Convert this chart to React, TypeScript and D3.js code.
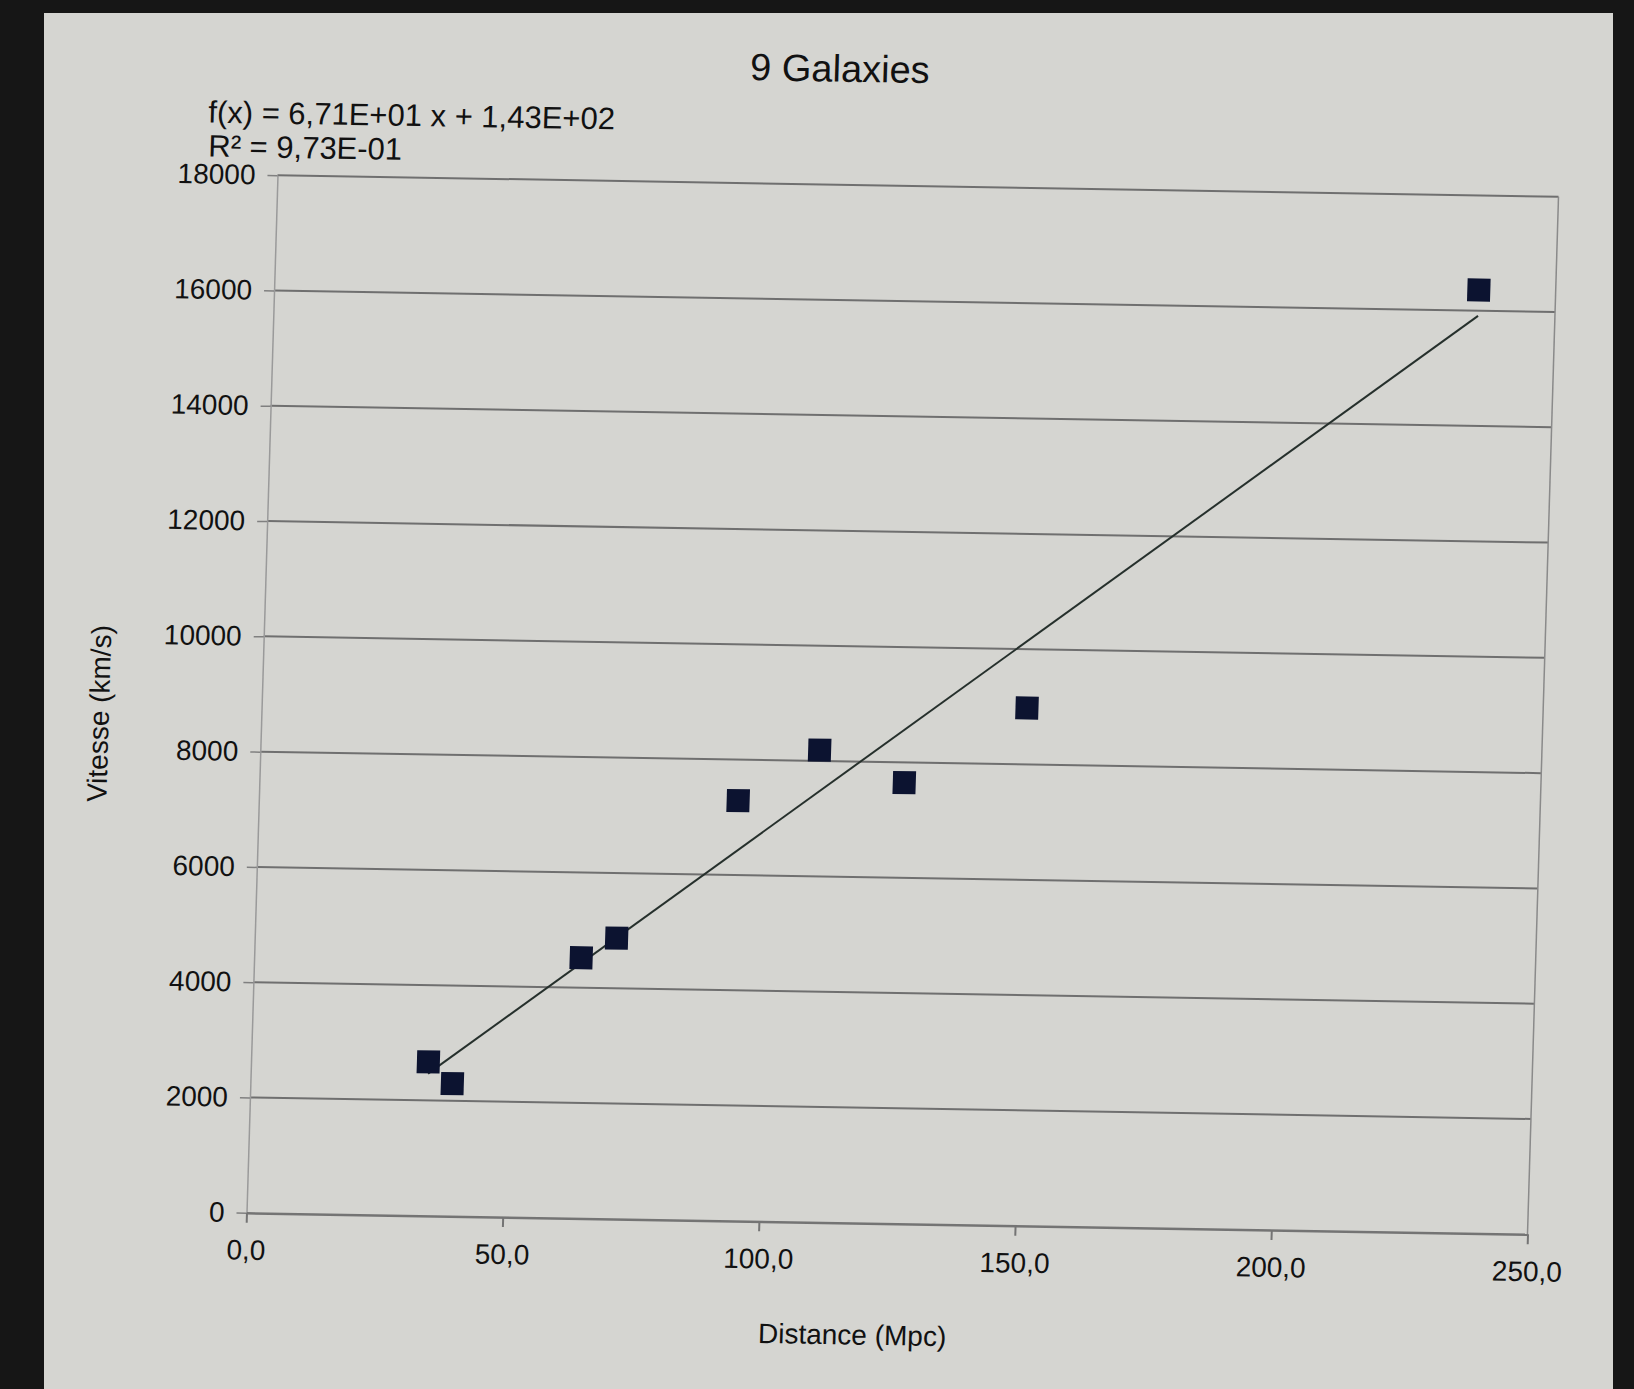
import React, { useEffect, useRef } from 'react';
import * as d3 from 'd3';

const distance = [34.6, 39.4, 63.8, 70.6, 93.5, 109.1, 125.8, 149.3, 235.0]; // Mpc
const vitesse = [2670, 2300, 4520, 4870, 7290, 8190, 7650, 8980, 16360]; // km/s
const xTicks = [0, 50, 100, 150, 200, 250];
const yTicks = [0, 2000, 4000, 6000, 8000, 10000, 12000, 14000, 16000, 18000];
const trendSlope = 67.1;
const trendIntercept = 143;
const chartTitle = '9 Galaxies';
const equationText = 'f(x) = 6,71E+01 x + 1,43E+02';
const r2Text = 'R² = 9,73E-01';
const xTitle = 'Distance (Mpc)';
const yTitle = 'Vitesse (km/s)';

const W = 1634;
const H = 1389;
const plotW = 1281;
const plotH = 1037.5;
const FONT = '"Liberation Sans", Arial, sans-serif';

export default function App() {
  const ref = useRef<SVGSVGElement>(null);

  useEffect(() => {
    const svg = d3.select(ref.current);
    svg.selectAll('*').remove();

    // cadre sombre + écran
    svg.append('rect').attr('width', W).attr('height', H).attr('fill', '#161616');
    svg
      .append('rect')
      .attr('x', 44)
      .attr('y', 13)
      .attr('width', 1569)
      .attr('height', H - 13)
      .attr('fill', '#d5d5d1');

    // légère inclinaison de la photo
    const g = svg
      .append('g')
      .attr('transform', 'matrix(1,0.01678,-0.02988,1,277.5,175.25)');

    const x = d3.scaleLinear().domain([0, 250]).range([0, plotW]);
    const y = d3.scaleLinear().domain([0, 18000]).range([plotH, 0]);

    // grille horizontale
    g.append('g')
      .selectAll('line')
      .data(yTicks.filter((d) => d > 0))
      .enter()
      .append('line')
      .attr('x1', 0)
      .attr('x2', plotW)
      .attr('y1', (d) => y(d))
      .attr('y2', (d) => y(d))
      .attr('stroke', '#6f6f6f')
      .attr('stroke-width', 2);

    // bord droit
    g.append('line')
      .attr('x1', plotW)
      .attr('x2', plotW)
      .attr('y1', 0)
      .attr('y2', plotH)
      .attr('stroke', '#8a8a8a')
      .attr('stroke-width', 1.5);

    // axe Y
    const yAxis = g
      .append('g')
      .call(
        d3
          .axisLeft(y)
          .tickValues(yTicks)
          .tickSize(10)
          .tickSizeOuter(0)
          .tickPadding(12)
          .tickFormat((d) => d3.format('d')(d as number))
      );
    yAxis.select('.domain').attr('stroke', '#9a9a9a').attr('stroke-width', 1.5);
    yAxis.selectAll('.tick line').attr('stroke', '#808080').attr('stroke-width', 1.5);
    yAxis
      .selectAll('.tick text')
      .attr('fill', '#111')
      .style('font-family', FONT)
      .style('font-size', '28px');

    // axe X
    const xAxis = g
      .append('g')
      .attr('transform', `translate(0,${plotH})`)
      .call(
        d3
          .axisBottom(x)
          .tickValues(xTicks)
          .tickSize(10)
          .tickSizeOuter(0)
          .tickPadding(17)
          .tickFormat((d) => d3.format('.1f')(d as number).replace('.', ','))
      );
    xAxis.select('.domain').attr('stroke', '#747474').attr('stroke-width', 2.5);
    xAxis.selectAll('.tick line').attr('stroke', '#747474').attr('stroke-width', 2);
    xAxis
      .selectAll('.tick text')
      .attr('fill', '#111')
      .style('font-family', FONT)
      .style('font-size', '28px');

    // droite de régression
    const xMin = d3.min(distance) as number;
    const xMax = d3.max(distance) as number;
    const line = d3
      .line<number>()
      .x((d) => x(d))
      .y((d) => y(trendSlope * d + trendIntercept));
    g.append('path')
      .datum([xMin, xMax])
      .attr('d', line)
      .attr('fill', 'none')
      .attr('stroke', '#26302c')
      .attr('stroke-width', 2);

    // points
    const size = 23;
    g.append('g')
      .selectAll('rect')
      .data(distance)
      .enter()
      .append('rect')
      .attr('x', (d) => x(d) - size / 2)
      .attr('y', (d, i) => y(vitesse[i]) - size / 2)
      .attr('width', size)
      .attr('height', size)
      .attr('fill', '#0c1330');

    // textes
    g.append('text')
      .attr('x', 559)
      .attr('y', -116)
      .attr('text-anchor', 'middle')
      .attr('dominant-baseline', 'central')
      .attr('fill', '#111')
      .style('font-family', FONT)
      .style('font-size', '38px')
      .text(chartTitle);

    g.append('text')
      .attr('x', -71)
      .attr('y', -62)
      .attr('dominant-baseline', 'central')
      .attr('fill', '#111')
      .style('font-family', FONT)
      .style('font-size', '31px')
      .text(equationText);

    g.append('text')
      .attr('x', -70)
      .attr('y', -28)
      .attr('dominant-baseline', 'central')
      .attr('fill', '#111')
      .style('font-family', FONT)
      .style('font-size', '31px')
      .text(r2Text);

    g.append('text')
      .attr('x', 609)
      .attr('y', plotH + 112)
      .attr('text-anchor', 'middle')
      .attr('dominant-baseline', 'central')
      .attr('fill', '#111')
      .style('font-family', FONT)
      .style('font-size', '28px')
      .text(xTitle);

    g.append('text')
      .attr('transform', `translate(-162,541) rotate(-90)`)
      .attr('text-anchor', 'middle')
      .attr('dominant-baseline', 'central')
      .attr('fill', '#111')
      .style('font-family', FONT)
      .style('font-size', '28px')
      .text(yTitle);
  }, []);

  return (
    <svg
      ref={ref}
      width={W}
      height={H}
      style={{ position: 'absolute', left: 0, top: 0, display: 'block' }}
    />
  );
}
